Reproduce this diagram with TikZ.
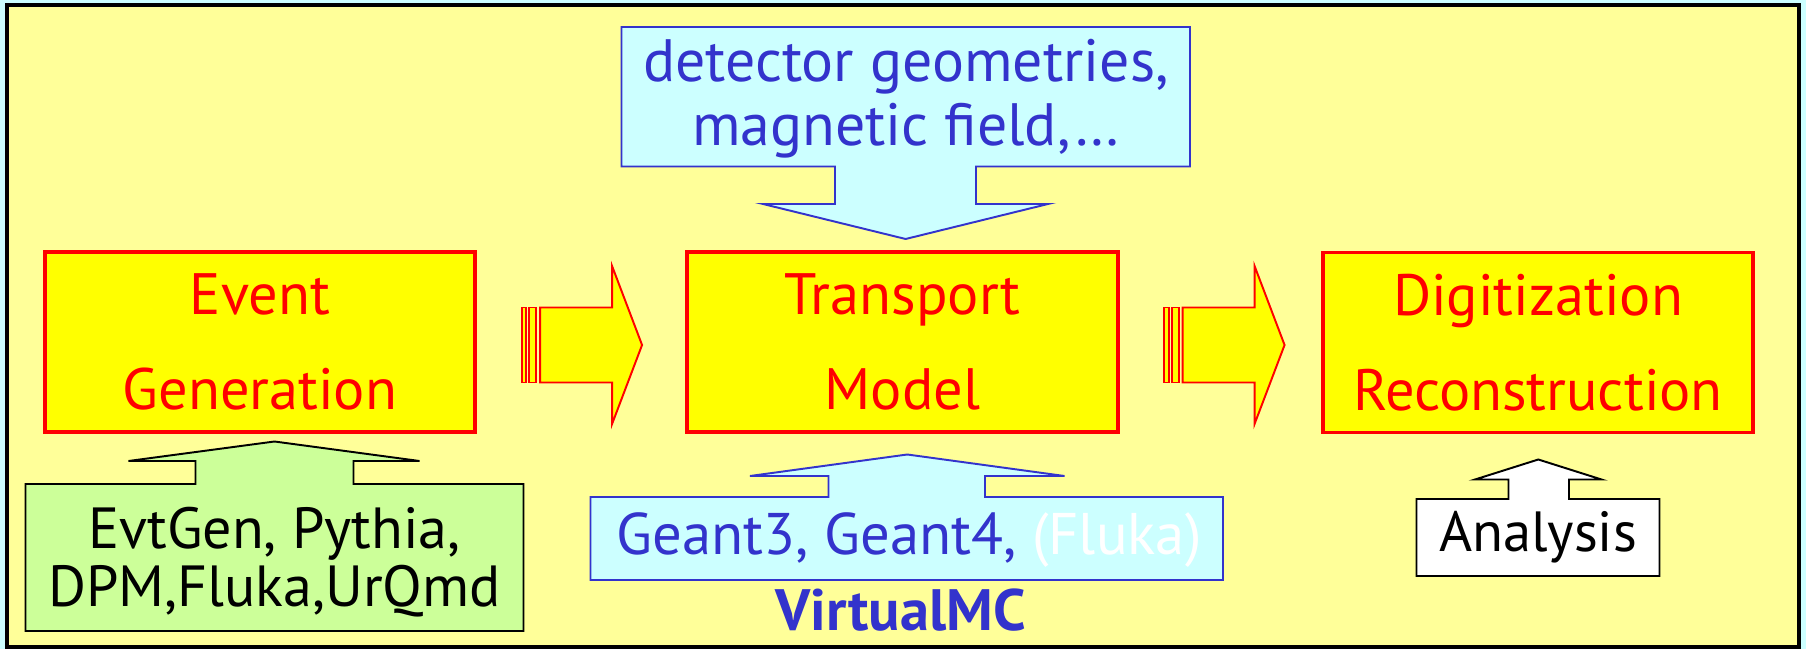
\documentclass[tikz,border=0pt]{standalone}
\usepackage{fontspec}
\setmainfont{PT Sans}
\usetikzlibrary{calc}
\definecolor{bgcyan}{HTML}{CCFFFF}
\definecolor{paneyellow}{HTML}{FFFF99}
\definecolor{boxyellow}{HTML}{FFFF00}
\definecolor{boxred}{HTML}{FF0000}
\definecolor{calloutblue}{HTML}{3333CC}
\definecolor{greenfill}{HTML}{CCFF99}
\tikzset{
  mainbox/.style={draw=boxred, fill=boxyellow, line width=1.1pt,
    minimum width=4.3cm, minimum height=1.8cm, text=boxred, align=center,
    font=\fontsize{16.6}{27}\selectfont, inner sep=0pt},
  fatarrowstyle/.style={draw=boxred, fill=boxyellow, line width=0.55pt, line join=miter},
  bluecallout/.style={draw=calloutblue, fill=bgcyan, line width=0.55pt, line join=miter},
  blackcallout/.style={draw=black, line width=0.55pt, line join=miter},
  bluetext/.style={text=calloutblue, align=center, inner sep=0pt},
  blacktext/.style={text=black, align=center, inner sep=0pt},
  bigarrow/.pic={
    \path[fatarrowstyle] (-18.5,-37.5) rectangle (-14,37.5);
    \path[fatarrowstyle] (-11,-37.5) rectangle (-4,37.5);
    \path[fatarrowstyle] (0,-37.5) -- (72,-37.5) -- (72,-79) -- (102,0)
       -- (72,79) -- (72,37.5) -- (0,37.5) -- cycle;
  }
}
\begin{document}
\begin{tikzpicture}[x=0.01cm,y=-0.01cm]
\useasboundingbox (0,0) rectangle (1806,649);
\fill[bgcyan] (0,0) rectangle (1806,649);
\draw[fill=paneyellow, line width=1.14pt] (7,5) rectangle (1799,647.5);

% main boxes
\node[mainbox] (evt) at (260,342) {Event\\Generation};
\node[mainbox] (tra) at (902.5,342) {Transport\\Model};
\node[mainbox] (dig) at (1538,342.5) {Digitization\\Reconstruction};

% block arrows between main boxes
\pic at ($(evt.east)+(63,3)$) {bigarrow};
\pic at ($(tra.east)+(63,3)$) {bigarrow};

% detector callout (down arrow)
\path[bluecallout] (621.5,27) -- (1190,27) -- (1190,166.5) -- (976,166.5)
  -- (976,204) -- (1048,204) -- (905.6,239) -- (763,204) -- (835,204)
  -- (835,166.5) -- (621.5,166.5) -- cycle;
\node[bluetext, font=\fontsize{17}{18.3}\selectfont] (det) at (906,99)
  {detector geometries,\\magnetic field,…};

% generators callout (up arrow)
\path[blackcallout, fill=greenfill] (25.5,484) -- (195.5,484) -- (195.5,461)
  -- (128.5,461) -- (274.5,441.5) -- (419.5,461) -- (353.5,461) -- (353.5,484)
  -- (523.5,484) -- (523.5,631) -- (25.5,631) -- cycle;
\node[blacktext, font=\fontsize{16.5}{16.5}\selectfont] (gen) at (274.5,562)
  {EvtGen, Pythia,\\DPM,Fluka,UrQmd};

% transport engines callout (up arrow)
\path[bluecallout] (590.5,497) -- (828.5,497) -- (828.5,476) -- (750,476)
  -- (907.3,454.5) -- (1064.5,476) -- (985,476) -- (985,497)
  -- (1223,497) -- (1223,580) -- (590.5,580) -- cycle;
\node[bluetext, font=\fontsize{16.7}{18}\selectfont] (geant) at (909,540)
  {Geant3, Geant4, \textcolor{white}{(Fluka)}};
\node[bluetext, font=\fontsize{16.6}{18}\selectfont\bfseries] (vmc) at (900.5,610)
  {VirtualMC};

% analysis callout (up arrow)
\path[blackcallout, fill=white] (1416.5,499) -- (1508.5,499) -- (1508.5,479.5)
  -- (1475,479.5) -- (1538.3,459.5) -- (1601.5,479.5) -- (1569,479.5)
  -- (1569,499) -- (1659.5,499) -- (1659.5,576) -- (1416.5,576) -- cycle;
\node[blacktext, font=\fontsize{16.1}{18}\selectfont] (ana) at (1538,537)
  {Analysis};
\end{tikzpicture}
\end{document}
